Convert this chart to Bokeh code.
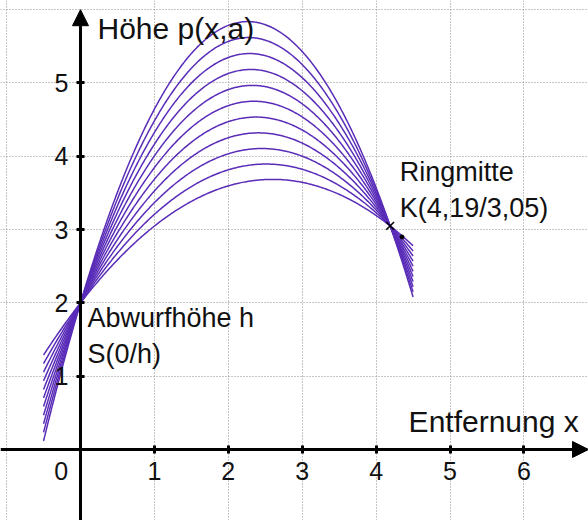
import numpy as np
from bokeh.plotting import figure
from bokeh.models import (Range1d, LinearAxis, FixedTicker, Grid, Arrow, NormalHead,
                          ColumnDataSource)
from bokeh.core.properties import value
from bokeh.embed import file_html
from bokeh.resources import INLINE

# ---- data ----
a_values = [-0.25, -0.30, -0.35, -0.40, -0.45, -0.50, -0.55, -0.60, -0.65, -0.70, -0.75]
h_value = 2.0                      # Abwurfhöhe, S(0/h)
ring_x, ring_y = 4.19, 3.05        # Ringmitte K
x_from, x_to = -0.5, 4.5           # drawn domain of the curves
x_ticks = [1, 2, 3, 4, 5, 6]
y_ticks = [1, 2, 3, 4, 5]
grid_x = [-1, 1, 2, 3, 4, 5, 6, 7]
grid_y = [-1, 1, 2, 3, 4, 5, 6]
extra_point = (4.35, 2.9)

FONT = "Liberation Sans"
CURVE = "#5a2db8"

x0, x1 = -1.0825, 6.874
y0, y1 = -0.969, 6.1255

p = figure(width=588, height=520, x_range=Range1d(x0, x1), y_range=Range1d(y0, y1),
           x_axis_type=None, y_axis_type=None, output_backend="svg",
           toolbar_location=None, min_border=0, outline_line_color=None,
           background_fill_color="white", border_fill_color="white")

# grid
for dim, ticks in ((0, grid_x), (1, grid_y)):
    g = Grid(dimension=dim, ticker=FixedTicker(ticks=ticks),
             grid_line_color="#8c8c8c", grid_line_dash="1 2", grid_line_width=1)
    p.add_layout(g)

# parabolas through S(0,h) and K(ring_x, ring_y)
xs_pts = np.linspace(x_from, x_to, 300)
xs, ys = [], []
for a in a_values:
    b = (ring_y - h_value - a * ring_x ** 2) / ring_x
    xs.append(xs_pts)
    ys.append(h_value + b * xs_pts + a * xs_pts ** 2)
p.multi_line(xs, ys, line_color=CURVE, line_width=1.5)

# axes lines with arrows
p.add_layout(Arrow(x_start=x0, y_start=0, x_end=x1, y_end=0, line_width=3, line_color="black",
                   end=NormalHead(size=16, fill_color="black", line_color="black")))
p.add_layout(Arrow(x_start=0, y_start=y0, x_end=0, y_end=6.0, line_width=3, line_color="black",
                   end=NormalHead(size=16, fill_color="black", line_color="black")))

xaxis = LinearAxis(ticker=FixedTicker(ticks=x_ticks), fixed_location=0,
                   axis_line_color=None, major_tick_in=4, major_tick_out=4,
                   major_tick_line_width=3, minor_tick_line_color=None,
                   major_label_standoff=9, major_label_text_font=FONT,
                   major_label_text_font_size="25px", major_label_text_color="#111111")
yaxis = LinearAxis(ticker=FixedTicker(ticks=y_ticks), fixed_location=0,
                   axis_line_color=None, major_tick_in=4, major_tick_out=4,
                   major_tick_line_width=3, minor_tick_line_color=None,
                   major_label_standoff=8, major_label_text_font=FONT,
                   major_label_text_font_size="25px", major_label_text_color="#111111")
p.add_layout(xaxis, "below")
p.add_layout(yaxis, "left")

# origin label
p.text(x=[-0.26], y=[0], text=["0"], text_font=value(FONT), text_font_size="25px",
       text_align="center", text_baseline="top", y_offset=13, text_color="#111111")

# markers
p.scatter([ring_x], [ring_y], marker="x", size=11, line_color="black", line_width=1.5)
p.scatter([extra_point[0]], [extra_point[1]], marker="circle", size=4,
          fill_color="black", line_color="black")

# annotations
labels = ColumnDataSource(dict(
    x=[0.23, 4.44, 4.32, 4.32, 0.095, 0.095],
    y=[5.745, 0.38, 3.79, 3.30, 1.79, 1.30],
    text=["Höhe p(x,a)", "Entfernung x", "Ringmitte", "K(4,19/3,05)", "Abwurfhöhe h", "S(0/h)"],
    size=["30px", "30px", "27px", "27px", "27px", "27px"],
))
p.text(x="x", y="y", text="text", source=labels, text_font=value(FONT),
       text_font_size="size", text_align="left", text_baseline="alphabetic",
       text_color="#111111")

open("out.html", "w").write(file_html(p, INLINE))
